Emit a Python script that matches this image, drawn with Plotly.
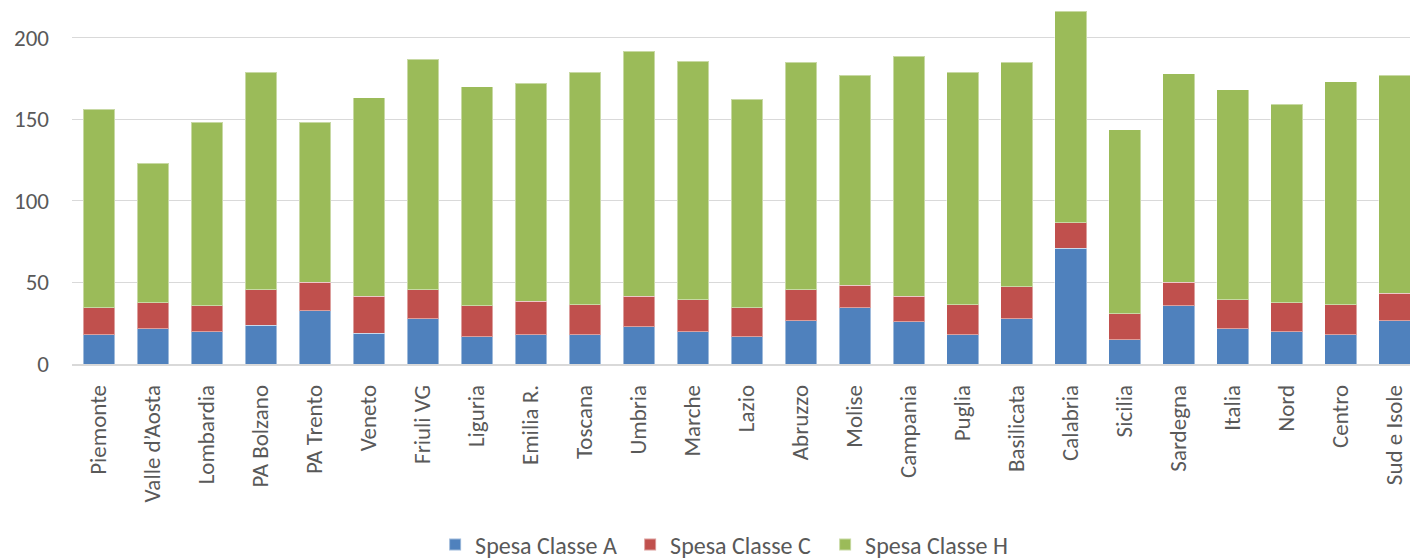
import plotly.graph_objects as go

categories = ["Piemonte", "Valle d\u2019Aosta", "Lombardia", "PA Bolzano", "PA Trento", "Veneto",
              "Friuli VG", "Liguria", "Emilia R.", "Toscana", "Umbria", "Marche", "Lazio",
              "Abruzzo", "Molise", "Campania", "Puglia", "Basilicata", "Calabria", "Sicilia",
              "Sardegna", "Italia", "Nord", "Centro", "Sud e Isole"]

spesa_a = [17.8, 21.7, 19.8, 23.7, 32.5, 18.8, 27.6, 16.8, 17.8, 17.8, 22.7, 19.8, 16.8,
           26.6, 34.6, 25.8, 17.8, 27.6, 70.8, 14.9, 35.8, 21.7, 19.8, 17.8, 26.6]
spesa_c = [16.6, 15.7, 15.8, 21.7, 17.6, 22.7, 17.8, 18.8, 20.6, 18.6, 18.8, 19.5, 17.6,
           18.8, 13.7, 15.7, 18.6, 19.6, 15.7, 15.8, 14.3, 17.6, 17.6, 18.6, 16.8]
spesa_h = [121.8, 85.5, 112.7, 133.5, 98.2, 121.7, 141.3, 134.3, 133.6, 142.5, 150.1, 146.4, 127.8,
           139.5, 128.6, 147.0, 142.5, 137.7, 129.7, 112.9, 127.8, 128.8, 121.9, 136.6, 133.5]

series = [("Spesa Classe A", spesa_a, "#4F81BD"),
          ("Spesa Classe C", spesa_c, "#C0504D"),
          ("Spesa Classe H", spesa_h, "#9BBB59")]

FONT = "Carlito, Lato, 'Open Sans', sans-serif"
FS = 23

fig = go.Figure()
for name, vals, color in series:
    fig.add_trace(go.Bar(
        x=list(range(len(categories))), y=vals, name=name,
        marker=dict(color=color, line=dict(color="rgba(255,255,255,0.45)", width=1)),
    ))

fig.update_layout(
    barmode="stack",
    bargap=0.41,
    width=1410, height=559,
    margin=dict(l=72, r=0, t=0, b=195, autoexpand=False),
    paper_bgcolor="white", plot_bgcolor="white",
    font=dict(family=FONT, size=FS, color="#595959"),
    showlegend=True,
    legend=dict(orientation="h", x=0.49, y=-0.497, xanchor="center", yanchor="middle",
                font=dict(size=24, color="#595959"), traceorder="normal",
                itemwidth=30, itemsizing="constant",
                entrywidth=150, entrywidthmode="pixels"),
    xaxis=dict(
        tickmode="array", tickvals=list(range(len(categories))), ticktext=categories,
        tickangle=-90, range=[-0.5, 24.28], showgrid=False,
        showline=True, linecolor="#d9d9d9", linewidth=1.5,
        ticks="", ticklabelstandoff=10, tickfont=dict(size=FS, color="#595959"),
        automargin=False,
    ),
    yaxis=dict(
        range=[0, 223.1], tickvals=[0, 50, 100, 150, 200],
        showgrid=True, gridcolor="#d9d9d9", gridwidth=1.3,
        zeroline=False, showline=False, ticks="",
        ticklabelstandoff=22, tickfont=dict(size=FS, color="#595959"),
        automargin=False,
    ),
)

fig.write_html("out.html", config={"displayModeBar": False},
               post_script="document.body.style.margin='0';document.body.style.overflow='hidden';")
